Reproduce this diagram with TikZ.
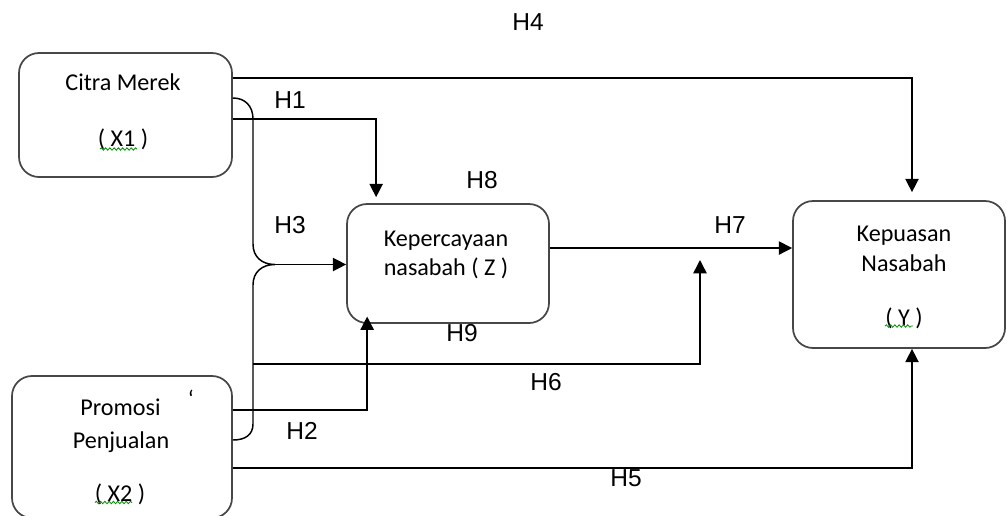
\documentclass[tikz,border=0pt]{standalone}
\usepackage{fontspec}
\setmainfont{Carlito}
\newfontfamily\arialf{Liberation Sans}
\usetikzlibrary{arrows.meta,decorations.pathmorphing,calc}
\tikzset{
  box/.style={draw=black!72, line width=1.3pt, rounded corners=15pt, inner sep=0pt},
  txt/.style={font=\fontsize{18.1pt}{21pt}\selectfont, inner sep=0pt, text height=11.6pt, text depth=0pt, text=black},
  hl/.style={font=\arialf\fontsize{18.4pt}{22pt}\selectfont, inner sep=0pt, text height=13.2pt, text depth=0pt},
  conn/.style={line width=1.1pt, black},
  arr/.style={conn, -{Triangle[length=10pt,width=10pt]}},
  squig/.style={green!55!black, line width=0.6pt, decorate, decoration={snake, amplitude=0.9pt, segment length=3.2pt}}
}
\begin{document}
\begin{tikzpicture}[x=0.75pt,y=-0.75pt]
\useasboundingbox (0,0) rectangle (1007,515);
\clip (0,0) rectangle (1007,515);

% boxes
\node[box, minimum width=159.75pt, minimum height=93pt] (x1) at (125.5,115) {};
\node[box, minimum width=165pt, minimum height=106.5pt] (x2) at (122,447) {};
\node[box, minimum width=151.5pt, minimum height=89.25pt] (z) at (448,263.5) {};
\node[box, minimum width=159pt, minimum height=110.25pt] (y) at (899,274.5) {};

% box texts
\node[txt] (x1a) at (123,83) {Citra Merek};
\node[txt] (x1b) at (123,139) {( X1 )};
\node[txt] (za) at (446,239) {Kepercayaan};
\node[txt] (zb) at (446,267.5) {nasabah ( Z )};
\node[txt] (ya) at (904,234) {Kepuasan};
\node[txt] (yb) at (904,263.5) {Nasabah};
\node[txt] (yc) at (904,317.5) {( Y )};
\node[txt] (x2a) at (120.5,407.5) {Promosi};
\node[txt] (x2b) at (121,440.5) {Penjualan};
\node[txt] (x2c) at (120,494) {( X2 )};
\node[txt, anchor=base] (tick) at (191,407) {\symbol{96}};

% spelling squiggles
\draw[squig] (100,149) -- (137,149);
\draw[squig] (95,502.5) -- (132,502.5);
\draw[squig] (885,326) -- (913,326);

% hypothesis labels
\node[hl] (h4) at (528,22) {H4};
\node[hl] (h1) at (290,100) {H1};
\node[hl] (h8) at (482,180) {H8};
\node[hl] (h3) at (290,225) {H3};
\node[hl] (h7) at (730,225) {H7};
\node[hl] (h9) at (462,333) {H9};
\node[hl] (h6) at (546,381.5) {H6};
\node[hl] (h2) at (302,431) {H2};
\node[hl] (h5) at (626,478) {H5};

% H4
\draw[arr] (x1.east |- 0,78) -| ([xshift=9.75pt,yshift=6pt]y.north);
% H1
\draw[arr] (x1.east |- 0,119) -| ([xshift=22.5pt,yshift=4.5pt]z.north west);
% H3 brace
\coordinate (btop) at (x1.east |- 0,98);
\coordinate (bbot) at (x2.east |- 0,440);
\coordinate (btip) at (275,264.5);
\draw[conn] (btop) .. controls (245,98) and (253,106) .. (253,119)
  -- (253,244) .. controls (253,257) and (262,264.5) .. (btip)
  .. controls (262,264.5) and (253,272) .. (253,285)
  -- (253,424) .. controls (253,435) and (245,440) .. (bbot);
\draw[arr] (btip) -- (btip -| z.west);
% H6
\coordinate (h6s) at (253,364);
\coordinate (h6e) at (700,260);
\draw[arr] (h6s) -| (h6e);
% H2
\draw[arr] (x2.east |- 0,410) -| ([xshift=15.75pt,yshift=5.5pt]z.south west);
% H7
\draw[arr] ([yshift=11.6pt]z.east) -- ([yshift=11.6pt]z.east -| y.west);
% H5
\draw[arr] (x2.east |- 0,468) -| ([xshift=9.75pt]y.south);
\end{tikzpicture}
\end{document}
